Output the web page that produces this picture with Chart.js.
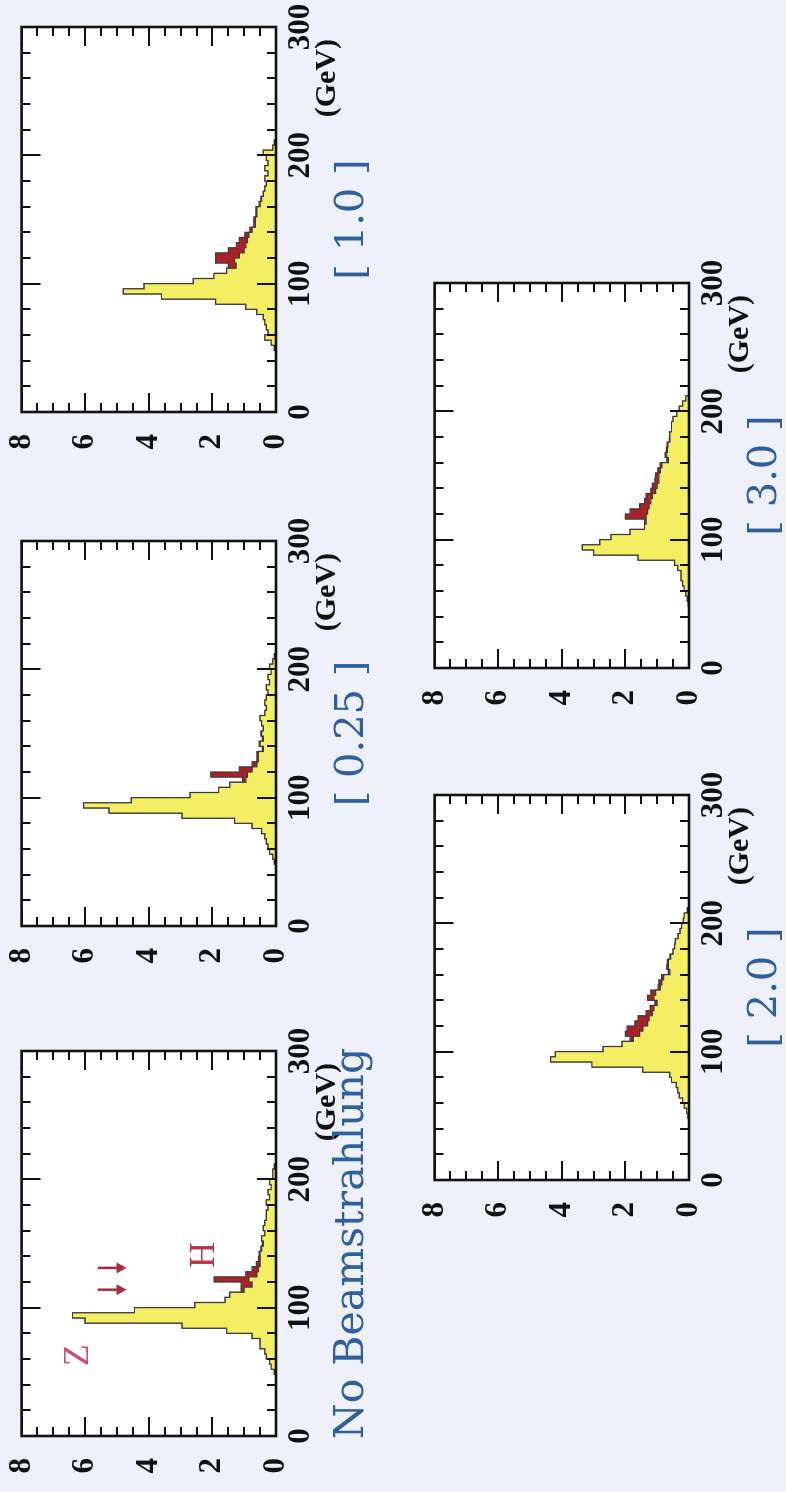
<!DOCTYPE html>
<html>
<head>
<meta charset="utf-8">
<title>Recoil mass vs. beamstrahlung</title>
<script src="https://cdn.jsdelivr.net/npm/chart.js@4.4.1/dist/chart.umd.min.js"></script>
<style>
  html, body { margin: 0; padding: 0; width: 786px; height: 1492px; overflow: hidden; background: #eef1f9; }
  /* the sheet is laid out landscape and turned a quarter turn to the left */
  #sheet { position: absolute; left: 0; top: 0; width: 1492px; height: 786px;
           transform-origin: 0 0; transform: translate(0, 1492px) rotate(-90deg); }
  .panel { position: absolute; }
  .panel canvas { position: absolute; left: 0; top: 0; }
  .cap { position: absolute; font-family: "DejaVu Serif", serif; font-size: 40px; line-height: 40px;
         color: #2f5f9d; white-space: nowrap; transform: translateX(-50%); }
  .unit { position: absolute; font-family: "Liberation Serif", serif; font-weight: bold; font-size: 30px;
          line-height: 30px; color: #111; white-space: nowrap; transform: translateX(-100%); }
</style>
</head>
<body>
<div id="sheet"></div>
<script>
// histogram bin edges (GeV), 4 GeV bins
const massEdges = [48, 52, 56, 60, 64, 68, 72, 76, 80, 84, 88, 92, 96, 100, 104, 108, 112, 116, 120, 124,
  128, 132, 136, 140, 144, 148, 152, 156, 160, 164, 168, 172, 176, 180, 184, 188, 192, 196, 200, 204, 208, 212];

// background (yellow) per bin, and the Higgs signal (red) stacked on top of it
const bgNoBeam = [0.05, 0.15, 0.2, 0.3, 0.35, 0.5, 0.5, 0.75, 1.55, 2.95,
  6.0, 6.4, 4.45, 2.55, 1.6, 1.45, 1.0, 0.75, 0.85, 0.6,
  0.55, 0.5, 0.5, 0.5, 0.45, 0.4, 0.45, 0.35, 0.4, 0.35,
  0.3, 0.3, 0.25, 0.3, 0.2, 0.25, 0.15, 0.2, 0.1, 0.1, 0.05];
const higgsNoBeam = [0, 0, 0, 0, 0, 0, 0, 0, 0, 0, 0, 0, 0, 0, 0, 0,
  0.1, 0.35, 1.1, 0.35, 0.2, 0.12, 0.05, 0.03, 0.03, 0.03,
  0, 0, 0, 0, 0, 0, 0, 0, 0, 0, 0, 0, 0, 0, 0];

const bg025 = [0.05, 0.1, 0.2, 0.25, 0.3, 0.35, 0.45, 0.75, 1.3, 2.95,
  5.25, 6.05, 4.55, 2.7, 1.8, 1.45, 0.95, 0.9, 0.75, 0.6,
  0.55, 0.55, 0.4, 0.5, 0.4, 0.45, 0.4, 0.45, 0.5, 0.35,
  0.3, 0.35, 0.3, 0.25, 0.3, 0.2, 0.25, 0.15, 0.2, 0.1, 0.05];
const higgs025 = [0, 0, 0, 0, 0, 0, 0, 0, 0, 0, 0, 0, 0, 0, 0, 0,
  0.1, 1.15, 0.4, 0.15, 0.05, 0.05, 0.03, 0.03, 0.03, 0.03,
  0, 0, 0, 0, 0, 0, 0, 0, 0, 0, 0, 0, 0, 0, 0];

const bg10 = [0.05, 0.15, 0.35, 0.25, 0.3, 0.35, 0.4, 0.6, 0.95, 1.9,
  3.6, 4.8, 4.15, 2.6, 1.95, 1.55, 1.25, 1.3, 1.15, 1.0,
  0.95, 0.9, 0.85, 0.75, 0.65, 0.65, 0.6, 0.6, 0.5, 0.45,
  0.4, 0.35, 0.3, 0.35, 0.25, 0.35, 0.25, 0.3, 0.4, 0.1, 0.05];
const higgs10 = [0, 0, 0, 0, 0, 0, 0, 0, 0, 0, 0, 0, 0, 0, 0, 0,
  0.25, 0.6, 0.75, 0.5, 0.3, 0.25, 0.13, 0.07, 0.05, 0.05, 0.03, 0.03, 0.03, 0.03,
  0, 0, 0, 0, 0, 0, 0, 0, 0, 0, 0];

const bg20 = [0.03, 0.07, 0.15, 0.2, 0.3, 0.35, 0.4, 0.55, 0.6, 1.45,
  3.05, 4.35, 4.2, 2.7, 2.1, 1.75, 1.55, 1.45, 1.3, 1.25,
  1.15, 1.1, 1.0, 1.1, 1.05, 0.9, 0.85, 0.8, 0.6, 0.65,
  0.65, 0.58, 0.5, 0.45, 0.43, 0.34, 0.28, 0.23, 0.18, 0.15, 0.05];
const higgs20 = [0, 0, 0, 0, 0, 0, 0, 0, 0, 0, 0, 0, 0, 0, 0,
  0.1, 0.45, 0.5, 0.4, 0.35, 0.2, 0.12, 0.07, 0.2, 0.15, 0.07, 0.1, 0.06, 0.05, 0.05, 0.03, 0.02,
  0, 0, 0, 0, 0, 0, 0, 0, 0];

const bg30 = [0.02, 0.05, 0.1, 0.15, 0.2, 0.25, 0.25, 0.35, 0.45, 1.6,
  3.0, 3.35, 2.8, 2.45, 1.85, 1.4, 1.35, 1.35, 1.3, 1.25,
  1.2, 1.15, 1.05, 1.0, 0.95, 0.95, 0.9, 0.85, 0.65, 0.7,
  0.68, 0.66, 0.6, 0.6, 0.55, 0.55, 0.5, 0.38, 0.3, 0.2, 0.1];
const higgs30 = [0, 0, 0, 0, 0, 0, 0, 0, 0, 0, 0, 0, 0, 0, 0, 0,
  0.05, 0.65, 0.55, 0.3, 0.2, 0.2, 0.15, 0.15, 0.12, 0.1, 0.08, 0.06, 0.05, 0.05, 0.03, 0.03, 0.02,
  0, 0, 0, 0, 0, 0, 0, 0];

const xTickValues = [0, 100, 200, 300];
const yTickValues = [0, 2, 4, 6, 8];

// markers in the first panel
const arrowMasses = [114, 131];
const arrowSpan = [5.6, 4.7];
const markTags = [
  { text: 'Z', mass: 63, value: 6.2, color: '#c9506c' },
  { text: 'H', mass: 141, value: 2.25, color: '#b23848' }
];

const YELLOW = '#f4ef62';
const RED = '#aa2127';
const EDGE = '#3a3a3a';
const INK = '#111';

// plot box size and rough canvas margins around it
const L = 60, T = 20, W = 385, H = 254, R = 40, B = 50;

const panels = [
  { title: 'No Beamstrahlung', bg: bgNoBeam, higgs: higgsNoBeam, u: 56, v: 22, notes: true, size: 41 },
  { title: '[ 0.25 ]', bg: bg025, higgs: higgs025, u: 566, v: 22 },
  { title: '[ 1.0 ]', bg: bg10, higgs: higgs10, u: 1080, v: 22 },
  { title: '[ 2.0 ]', bg: bg20, higgs: higgs20, u: 312, v: 435 },
  { title: '[ 3.0 ]', bg: bg30, higgs: higgs30, u: 824, v: 435 }
];

function stepPoints(edges, vals) {
  const pts = [{ x: edges[0], y: 0 }];
  vals.forEach((v, i) => pts.push({ x: edges[i], y: v }));
  pts.push({ x: edges[edges.length - 1], y: 0 });
  return pts;
}

const plotBg = {
  id: 'plotBg',
  beforeDraw(chart) {
    const { ctx, chartArea: a } = chart;
    ctx.save();
    ctx.fillStyle = '#fff';
    ctx.fillRect(a.left, a.top, a.width, a.height);
    ctx.restore();
  }
};

// box with inward ticks on all four sides
const frameTicks = {
  id: 'frameTicks',
  afterDraw(chart) {
    const { ctx, chartArea: a } = chart;
    const x = chart.scales.x, y = chart.scales.y;
    ctx.save();
    ctx.strokeStyle = INK;
    ctx.lineWidth = 2;
    ctx.beginPath();
    for (let m = 0; m <= 300; m += 20) {
      const px = Math.round(x.getPixelForValue(m));
      const len = m % 100 === 0 ? 19 : 9;
      ctx.moveTo(px, a.top); ctx.lineTo(px, a.top + len);
      ctx.moveTo(px, a.bottom); ctx.lineTo(px, a.bottom - len);
    }
    for (let k = 0; k <= 16; k++) {
      const val = k / 2;
      const py = Math.round(y.getPixelForValue(val));
      const len = val % 2 === 0 ? 19 : 9;
      ctx.moveTo(a.left, py); ctx.lineTo(a.left + len, py);
      ctx.moveTo(a.right, py); ctx.lineTo(a.right - len, py);
    }
    ctx.stroke();
    ctx.lineWidth = 2.6;
    ctx.strokeRect(a.left, a.top, a.width, a.height);
    ctx.restore();
  }
};

const peakNotes = {
  id: 'peakNotes',
  afterDatasetsDraw(chart) {
    const { ctx } = chart;
    const x = chart.scales.x, y = chart.scales.y;
    ctx.save();
    ctx.strokeStyle = '#a82c3a';
    ctx.fillStyle = '#a82c3a';
    ctx.lineWidth = 2.5;
    arrowMasses.forEach(m => {
      const px = x.getPixelForValue(m);
      const y0 = y.getPixelForValue(arrowSpan[0]);
      const y1 = y.getPixelForValue(arrowSpan[1]);
      ctx.beginPath();
      ctx.moveTo(px, y0);
      ctx.lineTo(px, y1 - 6);
      ctx.stroke();
      ctx.beginPath();
      ctx.moveTo(px - 5.5, y1 - 10);
      ctx.lineTo(px, y1);
      ctx.lineTo(px + 5.5, y1 - 10);
      ctx.closePath();
      ctx.fill();
    });
    ctx.font = '36px "Liberation Serif", serif';
    ctx.textAlign = 'center';
    ctx.textBaseline = 'middle';
    markTags.forEach(t => {
      ctx.fillStyle = t.color;
      ctx.fillText(t.text, x.getPixelForValue(t.mass), y.getPixelForValue(t.value));
    });
    ctx.restore();
  }
};

const tickFont = { family: '"Liberation Serif", serif', size: 31, weight: 'bold' };
const sheet = document.getElementById('sheet');

panels.forEach(p => {
  const box = document.createElement('div');
  box.className = 'panel';
  const canvas = document.createElement('canvas');
  canvas.width = L + W + R;
  canvas.height = T + H + B;
  box.appendChild(canvas);
  sheet.appendChild(box);

  const total = p.bg.map((v, i) => v + p.higgs[i]);

  const chart = new Chart(canvas, {
    type: 'line',
    data: {
      datasets: [
        { data: stepPoints(massEdges, p.bg), stepped: 'before', fill: 'origin',
          backgroundColor: YELLOW, borderColor: EDGE, borderWidth: 1.2, pointRadius: 0 },
        { data: stepPoints(massEdges, total), stepped: 'before', fill: '-1',
          backgroundColor: RED, borderColor: EDGE, borderWidth: 1.2, pointRadius: 0 }
      ]
    },
    options: {
      responsive: false,
      maintainAspectRatio: false,
      animation: false,
      devicePixelRatio: 1,
      events: [],
      layout: { padding: { left: 0, top: T, right: R, bottom: 0 } },
      plugins: { legend: { display: false }, tooltip: { enabled: false } },
      scales: {
        x: {
          type: 'linear', min: 0, max: 300,
          grid: { display: false, drawTicks: false },
          border: { display: false },
          ticks: { font: tickFont, color: INK, padding: 6, maxRotation: 0, autoSkip: false },
          afterBuildTicks: s => { s.ticks = xTickValues.map(v => ({ value: v })); },
          afterFit: s => { s.height = B; }
        },
        y: {
          type: 'linear', min: 0, max: 8,
          grid: { display: false, drawTicks: false },
          border: { display: false },
          ticks: { font: tickFont, color: INK, padding: 22 },
          afterBuildTicks: s => { s.ticks = yTickValues.map(v => ({ value: v })); },
          afterFit: s => { s.width = L; }
        }
      }
    },
    plugins: p.notes ? [plotBg, frameTicks, peakNotes] : [plotBg, frameTicks]
  });

  // grow the canvas until the plot box has its intended size, then pin it in place
  let ca = chart.chartArea;
  const dw = W - Math.round(ca.right - ca.left);
  const dh = H - Math.round(ca.bottom - ca.top);
  if (dw || dh) {
    chart.resize(canvas.width + dw, canvas.height + dh);
    ca = chart.chartArea;
  }
  box.style.left = (p.u - ca.left) + 'px';
  box.style.top = (p.v - ca.top) + 'px';

  const unit = document.createElement('div');
  unit.className = 'unit';
  unit.textContent = '(GeV)';
  unit.style.left = (ca.left + 373) + 'px';
  unit.style.top = (ca.top + H + 34) + 'px';
  box.appendChild(unit);

  const cap = document.createElement('div');
  cap.className = 'cap';
  cap.textContent = p.title;
  cap.style.left = (ca.left + W / 2) + 'px';
  cap.style.top = (ca.top + H + 53) + 'px';
  if (p.size) { cap.style.fontSize = p.size + 'px'; cap.style.lineHeight = p.size + 'px'; }
  box.appendChild(cap);
});
</script>
</body>
</html>
